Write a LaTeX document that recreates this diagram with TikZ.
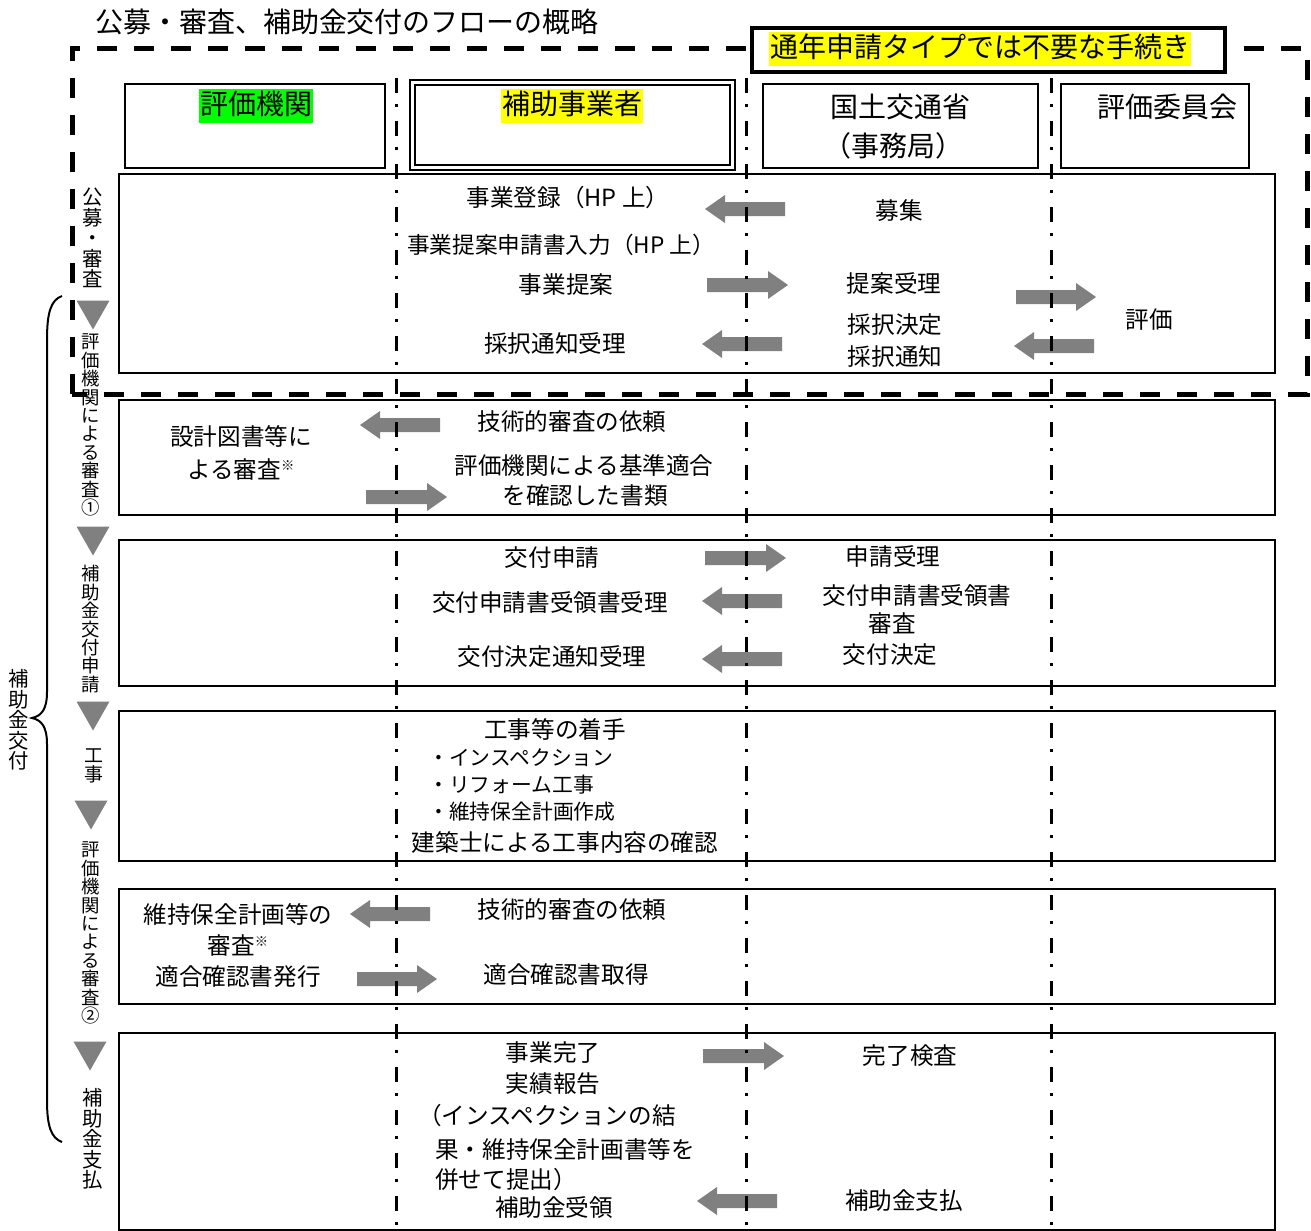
\documentclass[tikz,border=0pt]{standalone}
\usepackage{fontspec}
\setmainfont{Noto Sans CJK JP}
\definecolor{arrowgray}{HTML}{808080}
\definecolor{hlgreen}{HTML}{00FF00}
\definecolor{hlyellow}{HTML}{FFFF00}
\newcommand\ArrR[3]{\fill[arrowgray] (#1,#3-7) -- (#2-20,#3-7) -- (#2-20,#3-14) -- (#2,#3) -- (#2-20,#3+14) -- (#2-20,#3+7) -- (#1,#3+7) -- cycle;}
\newcommand\ArrL[3]{\fill[arrowgray] (#1,#3-7) -- (#2+20,#3-7) -- (#2+20,#3-14) -- (#2,#3) -- (#2+20,#3+14) -- (#2+20,#3+7) -- (#1,#3+7) -- cycle;}
\newcommand\DownTri[2]{\fill[arrowgray] (#1-16.5,#2-14.5) -- (#1+16.5,#2-14.5) -- (#1,#2+14.5) -- cycle;}
\newcommand\kome{\raisebox{0.55ex}{\fontsize{10pt}{10pt}\selectfont ※}}
\begin{document}
\begin{tikzpicture}[x=0.75pt,y=-0.75pt,
  rowbox/.style={draw=black, line width=1.5pt},
  hbox/.style={draw=black, line width=1.2pt},
  lane/.style={draw=black, line width=2.25pt, dash pattern=on 11.25pt off 8.25pt on 2.25pt off 10.5pt},
  txt/.style={inner sep=0pt, font=\fontsize{17.7pt}{22pt}\selectfont},
  sml/.style={inner sep=0pt, font=\fontsize{15.6pt}{20pt}\selectfont},
  hdr/.style={inner sep=0pt, font=\fontsize{21pt}{26pt}\selectfont},
  vlab/.style={inner sep=0pt, align=center, font=\fontsize{13.8pt}{13.8pt}\selectfont},
  vlabb/.style={inner sep=0pt, align=center, font=\fontsize{15.3pt}{15.3pt}\selectfont},
  hl/.style={inner xsep=1pt, inner ysep=3pt, text height=16.5pt, text depth=3.5pt},
]
\useasboundingbox (0,0) rectangle (1311,1231);
\fill[white] (0,0) rectangle (1311,1231);

% row boxes
\draw[rowbox] (119,174) rectangle (1275,373);
\draw[rowbox] (119,400) rectangle (1275,515);
\draw[rowbox] (119,540) rectangle (1275,686);
\draw[rowbox] (119,711) rectangle (1275,861);
\draw[rowbox] (119,889) rectangle (1275,1004);
\draw[rowbox] (119,1033) rectangle (1275,1229.5);

% header boxes
\draw[hbox] (125,84) rectangle (385,168);
\draw[hbox] (410,80) rectangle (735,170);
\draw[hbox] (415,85) rectangle (730,165);
\draw[hbox] (763,84) rectangle (1038,168);
\draw[hbox] (1061,84) rectangle (1249,168);

% block arrows
\ArrL{785}{705}{209}
\ArrR{707}{788}{285}
\ArrL{782}{702}{344}
\ArrR{1016}{1096}{297}
\ArrL{1094}{1014}{346}
\ArrL{440}{360}{425}
\ArrR{366}{447}{497}
\ArrR{705}{786}{558}
\ArrL{782}{702}{601}
\ArrL{782}{702}{659}
\ArrL{430}{350}{914}
\ArrR{357}{437}{979}
\ArrR{703}{784}{1056}
\ArrL{777}{697}{1201}

% lanes
\draw[lane] (396,78) -- (396,1231);
\draw[lane] (746,78) -- (746,1231);
\draw[lane] (1051,78) -- (1051,1231);

% big dashed frame
\draw[line width=3.75pt, dash pattern=on 15pt off 12.75pt] (72,394) -- (72,49) -- (1307,49) -- (1307,394) -- cycle;

% box for annual type
\draw[line width=3pt, fill=white] (752,28) rectangle (1225,72);
\node[hdr, hl, fill=hlyellow] (annual) at (980,49) {通年申請タイプでは不要な手続き};

% title
\node[hdr] (title) at (347,22) {公募・審査、補助金交付のフローの概略};

% header labels
\node[hdr, hl, fill=hlgreen] (hA) at (256,106) {評価機関};
\node[hdr, hl, fill=hlyellow] (hB) at (572,106) {補助事業者};
\node[hdr] (hC1) at (900,107) {国土交通省};
\node[hdr] (hC2) at (893,146) {（事務局）};
\node[hdr] (hD) at (1167,107) {評価委員会};

% left stage labels
\node[vlabb] (s1) at (93,238) {公\\募\\・\\審\\査};
\DownTri{93}{315}
\node[vlab] (s2) at (91,425) {評\\価\\機\\関\\に\\よ\\る\\審\\査\\①};
\DownTri{93}{541}
\node[vlab] (s3) at (91,629) {補\\助\\金\\交\\付\\申\\請};
\DownTri{93}{716}
\node[vlab, font=\fontsize{14.2pt}{14.2pt}\selectfont] (s4) at (94,766) {工\\事};
\DownTri{91}{815}
\node[vlab] (s5) at (91,933) {評\\価\\機\\関\\に\\よ\\る\\審\\査\\②};
\DownTri{90}{1056}
\node[vlabb] (s6) at (93,1139) {補\\助\\金\\支\\払};

% brace
\draw[line width=1.5pt] (62,296) .. controls (51,300) and (47,312) .. (47,340) -- (47,692) .. controls (47,710) and (41,716) .. (32,718) .. controls (41,720) and (47,726) .. (47,744) -- (47,1100) .. controls (47,1126) and (51,1138) .. (62,1142);
\node[vlabb] (brl) at (19,720) {補\\助\\金\\交\\付};

% row 1
\node[txt] (r1a) at (568,198) {事業登録（HP 上）};
\node[txt, font=\fontsize{17pt}{22pt}\selectfont] (r1b) at (561,245) {事業提案申請書入力（HP 上）};
\node[txt] (r1c) at (566,285) {事業提案};
\node[txt] (r1d) at (555,344) {採択通知受理};
\node[txt] (r1e) at (899,211) {募集};
\node[txt] (r1f) at (894,283) {提案受理};
\node[txt] (r1g) at (895,325) {採択決定};
\node[txt] (r1h) at (895,357) {採択通知};
\node[txt] (r1i) at (1149,320) {評価};

% row 2
\node[txt] (r2a) at (241,437) {設計図書等に};
\node[txt] (r2b) at (241,469) {よる審査\kome};
\node[txt] (r2c) at (572,422) {技術的審査の依頼};
\node[txt] (r2d) at (584,465) {評価機関による基準適合};
\node[txt] (r2e) at (585,496) {を確認した書類};

% row 3
\node[txt] (r3a) at (552,558) {交付申請};
\node[txt] (r3b) at (550,603) {交付申請書受領書受理};
\node[txt] (r3c) at (552,657) {交付決定通知受理};
\node[txt] (r3d) at (893,556) {申請受理};
\node[txt] (r3e) at (917,596) {交付申請書受領書};
\node[txt] (r3f) at (892,623) {審査};
\node[txt] (r3g) at (890,655) {交付決定};

% row 4
\node[txt] (r4a) at (555,730) {工事等の着手};
\node[sml, anchor=west] (r4b) at (428,758) {・インスペクション};
\node[sml, anchor=west] (r4c) at (428,785) {・リフォーム工事};
\node[sml, anchor=west] (r4d) at (428,812) {・維持保全計画作成};
\node[txt] (r4e) at (565,843) {建築士による工事内容の確認};

% row 5
\node[txt] (r5a) at (238,914) {維持保全計画等の};
\node[txt] (r5b) at (238,945) {審査\kome};
\node[txt] (r5c) at (238,977) {適合確認書発行};
\node[txt] (r5d) at (572,910) {技術的審査の依頼};
\node[txt] (r5e) at (566,975) {適合確認書取得};

% row 6
\node[txt] (r6a) at (553,1053) {事業完了};
\node[txt] (r6b) at (553,1084) {実績報告};
\node[txt, anchor=west] (r6c) at (418,1116) {（インスペクションの結};
\node[txt, anchor=west] (r6d) at (435,1149) {果・維持保全計画書等を};
\node[txt, anchor=west] (r6e) at (435,1180) {併せて提出）};
\node[txt] (r6f) at (554,1208) {補助金受領};
\node[txt] (r6g) at (910,1056) {完了検査};
\node[txt] (r6h) at (904,1201) {補助金支払};
\end{tikzpicture}
\end{document}
